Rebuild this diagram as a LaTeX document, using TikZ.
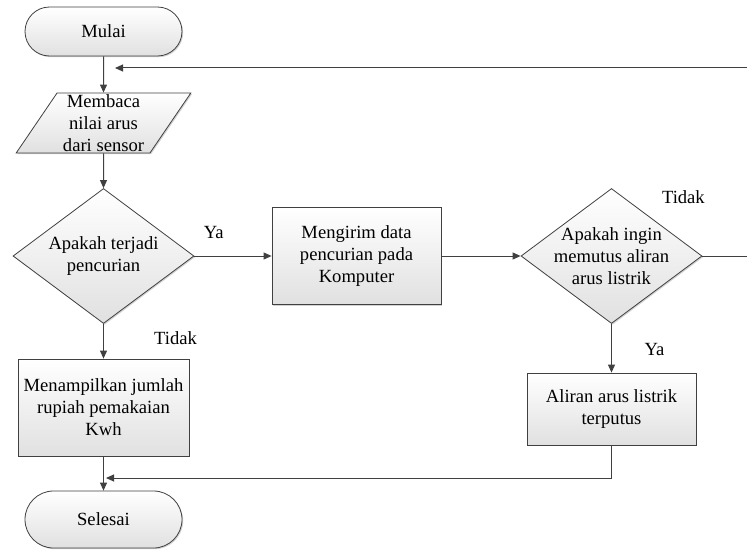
\documentclass[tikz,border=0pt]{standalone}
\usepackage{fontspec}
\setmainfont{Liberation Serif}
\usetikzlibrary{shapes.geometric,shapes.misc,arrows.meta,shadows}
\definecolor{garis}{HTML}{404040}
\tikzset{
  bentuk/.style={draw=garis, line width=0.8pt, top color=white, bottom color=black!12,
    drop shadow={shadow xshift=1.2pt,shadow yshift=-1.2pt,fill=black!35},
    align=center, inner sep=0pt},
  terminal/.style={bentuk, rounded rectangle, minimum width=157pt, minimum height=49pt},
  proses/.style={bentuk, rectangle, minimum width=169pt},
  masukan/.style={bentuk, trapezium, trapezium left angle=58, trapezium right angle=122,
    trapezium stretches=true, minimum width=175pt, minimum height=60pt},
  keputusan/.style={bentuk, diamond, aspect=1.34, inner xsep=-20pt,
    minimum width=181pt, minimum height=135pt},
  panah/.style={draw=garis, line width=1pt, -{Triangle[length=8pt,width=7pt]}},
}

\begin{document}
\begin{tikzpicture}[x=1pt,y=-1pt,every node/.style={font=\fontsize{18.6}{22}\selectfont}]
        \useasboundingbox (0,0) rectangle (747,551);
        \node[terminal] (mulai) at (103.5,31.5) {Mulai};
        \node[masukan] (baca) at (103.5,123) {Membaca\\nilai arus\\dari sensor};
        \node[keputusan] (curi) at (103.5,256) {Apakah terjadi\\pencurian};
        \node[proses, minimum height=97pt] (kirim) at (356.5,256) {Mengirim data\\pencurian pada\\Komputer};
        \node[keputusan] (putus) at (611.5,256) {Apakah ingin\\memutus aliran\\arus listrik};
        \node[proses, minimum height=72pt] (terputus) at (611.5,409) {Aliran arus listrik\\terputus};
        \node[proses, minimum width=171pt, minimum height=97pt] (tampil) at (103.5,407.5) {Menampilkan jumlah\\rupiah pemakaian\\Kwh};
        \node[terminal, minimum height=57pt] (selesai) at (103.5,519.5) {Selesai};
        \coordinate (balik) at (115,68);
        \coordinate (pojok) at (752,256);
        \coordinate (gabung) at (106,478);
        \draw[panah] (mulai) -- (baca);
        \draw[panah] (baca) -- (curi);
        \draw[panah] (curi) -- node[pos=0.25,yshift=24pt]{Ya} (kirim);
        \draw[panah] (kirim) -- (putus);
        \draw[panah] (curi) -- node[pos=0.4,xshift=72pt]{Tidak} (tampil);
        \draw[panah] (putus) -- node[pos=0.53,xshift=43pt]{Ya} (terputus);
        \draw[panah] (putus.east) -- node[pos=0,xshift=-19pt,yshift=59pt]{Tidak} (pojok) |- (balik);
        \draw[panah] (terputus.south) |- (gabung);
        \draw[panah] (tampil) -- (selesai);
    \end{tikzpicture}
\end{document}
